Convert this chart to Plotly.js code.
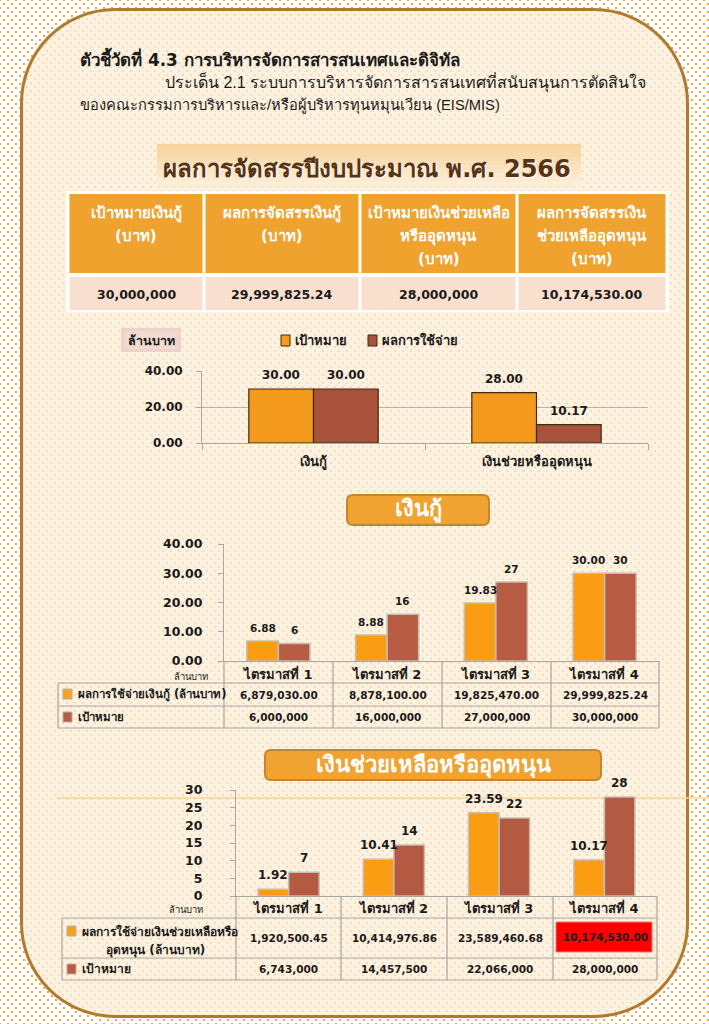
<!DOCTYPE html>
<html><head><meta charset="utf-8">
<script src="https://cdn.plot.ly/plotly-3.0.1.min.js"></script>
<style>
html,body{margin:0;padding:0;background:#fff;}
#page{position:relative;width:709px;height:1024px;overflow:hidden;background-color:#fff;
background-image:radial-gradient(circle,#f3a645 0.9px,transparent 1.5px),radial-gradient(circle,#f3a645 0.9px,transparent 1.5px);
background-size:8px 8px;background-position:0 0,4px 4px;}
#card{position:absolute;left:20px;top:8px;width:669px;height:1010px;box-sizing:border-box;border:3px solid #b27a2e;border-radius:95px;background-color:#fdf1df;
background-image:radial-gradient(circle,#f7dbb8 0.9px,transparent 1.5px),radial-gradient(circle,#f7dbb8 0.9px,transparent 1.5px);
background-size:8px 8px;background-position:0 0,4px 4px;}
#chart{position:absolute;left:0;top:0;width:709px;height:1024px;}
</style></head>
<body><div id="page"><div id="card"></div><div id="chart"></div></div>
<script>
// ---------------- DATA ----------------
const titleLines = [
  "ตัวชี้วัดที่ 4.3 การบริหารจัดการสารสนเทศและดิจิทัล",
  "ประเด็น 2.1 ระบบการบริหารจัดการสารสนเทศที่สนับสนุนการตัดสินใจ",
  "ของคณะกรรมการบริหารและ/หรือผู้บริหารทุนหมุนเวียน (EIS/MIS)"
];
const summaryTitle = "ผลการจัดสรรปีงบประมาณ พ.ศ. 2566";
const summaryHeaders = [
  ["เป้าหมายเงินกู้", "(บาท)"],
  ["ผลการจัดสรรเงินกู้", "(บาท)"],
  ["เป้าหมายเงินช่วยเหลือ", "หรืออุดหนุน", "(บาท)"],
  ["ผลการจัดสรรเงิน", "ช่วยเหลืออุดหนุน", "(บาท)"]
];
const summaryValues = ["30,000,000", "29,999,825.24", "28,000,000", "10,174,530.00"];

const unitLabel = "ล้านบาท";
const overviewCategories = ["เงินกู้", "เงินช่วยหรืออุดหนุน"];
const overviewNames = ["เป้าหมาย", "ผลการใช้จ่าย"];
const overviewTarget = [30.00, 28.00];
const overviewSpent = [29.999825, 10.17453];

const quarters = ["ไตรมาสที่ 1", "ไตรมาสที่ 2", "ไตรมาสที่ 3", "ไตรมาสที่ 4"];

const loanTitle = "เงินกู้";
const loanRowNames = ["ผลการใช้จ่ายเงินกู้ (ล้านบาท)", "เป้าหมาย"];
const loanSpentBaht = [6879030.00, 8878100.00, 19825470.00, 29999825.24];
const loanTargetBaht = [6000000, 16000000, 27000000, 30000000];

const grantTitle = "เงินช่วยเหลือหรืออุดหนุน";
const grantRowNames = [["ผลการใช้จ่ายเงินช่วยเหลือหรือ", "อุดหนุน (ล้านบาท)"], "เป้าหมาย"];
const grantSpentBaht = [1920500.45, 10414976.86, 23589460.68, 10174530.00];
const grantTargetBaht = [6743000, 14457500, 22066000, 28000000];

// ---------------- HELPERS ----------------
const W = 709, H = 1024;
const F = "Tahoma, 'DejaVu Sans', 'Noto Sans', sans-serif";
const FN = "'Liberation Sans Narrow', 'Liberation Sans', sans-serif";
const X = v => v / W, Y = v => 1 - v / H;
const toM = a => a.map(v => v / 1e6);
const fmt2 = v => v.toLocaleString('en-US', {minimumFractionDigits: 2, maximumFractionDigits: 2});
const fmt0 = v => v.toLocaleString('en-US', {maximumFractionDigits: 0});
const shapes = [], ann = [];
function rect(x0, y0, x1, y1, fill, lc, lw, layer) {
  shapes.push({type: 'rect', xref: 'paper', yref: 'paper', x0: X(x0), x1: X(x1), y0: Y(y1), y1: Y(y0),
    fillcolor: fill, line: {color: lc || 'rgba(0,0,0,0)', width: lw || 0}, layer: layer || 'below'});
}
function line(x0, y0, x1, y1, c, w) {
  shapes.push({type: 'line', xref: 'paper', yref: 'paper', x0: X(x0), x1: X(x1), y0: Y(y0), y1: Y(y1),
    line: {color: c, width: w || 1}, layer: 'below'});
}
function rrect(x0, y0, x1, y1, r, fill, lc, lw) {
  const p = `M${X(x0 + r)},${Y(y0)} L${X(x1 - r)},${Y(y0)} Q${X(x1)},${Y(y0)} ${X(x1)},${Y(y0 + r)} ` +
    `L${X(x1)},${Y(y1 - r)} Q${X(x1)},${Y(y1)} ${X(x1 - r)},${Y(y1)} L${X(x0 + r)},${Y(y1)} ` +
    `Q${X(x0)},${Y(y1)} ${X(x0)},${Y(y1 - r)} L${X(x0)},${Y(y0 + r)} Q${X(x0)},${Y(y0)} ${X(x0 + r)},${Y(y0)} Z`;
  shapes.push({type: 'path', xref: 'paper', yref: 'paper', path: p, fillcolor: fill,
    line: {color: lc || 'rgba(0,0,0,0)', width: lw || 0}, layer: 'below'});
}
function txt(x, y, text, size, o) {
  o = o || {};
  ann.push({xref: 'paper', yref: 'paper', x: X(x), y: Y(y), text: text, showarrow: false,
    xanchor: o.xa || 'center', yanchor: 'middle',
    font: {family: o.family || F, size: size, color: o.color || '#1a1a1a', weight: o.weight || 'normal', shadow: o.shadow || 'none'}});
}

// ---------------- HEADER TEXT ----------------
txt(78, 58, titleLines[0], 16.9, {xa: 'left', weight: 'bold'});
txt(163, 82, titleLines[1], 16, {xa: 'left', family: FN});
txt(78, 105, titleLines[2], 14.7, {xa: 'left', family: FN});

// summary title box (soft gradient)
const gTop = [0xf7, 0xd3, 0x9e], gBot = [0xfd, 0xee, 0xd8];
const nStrip = 10;
for (let i = 0; i < nStrip; i++) {
  const t = i / (nStrip - 1);
  const c = gTop.map((v, k) => Math.round(v + (gBot[k] - v) * t));
  const y0 = 144 + i * (42 / nStrip), y1 = y0 + 42 / nStrip + 0.6;
  rect(157, y0, 581, y1, `rgb(${c[0]},${c[1]},${c[2]})`);
}
txt(367, 169, summaryTitle, 24, {weight: 'bold', color: '#553415', shadow: '1px 1px 2px rgba(255,255,255,0.8)'});

// summary table
const cEdges = [68, 204, 360, 517, 667];
rect(66, 191, 669, 312, '#ffffff');
for (let i = 0; i < 4; i++) {
  const x0 = cEdges[i] + 1.5, x1 = cEdges[i + 1] - 1.5, cx = (cEdges[i] + cEdges[i + 1]) / 2;
  rect(x0, 194, x1, 273, '#f0a22f');
  rect(x0, 277, x1, 310, '#f9dfcd');
  summaryHeaders[i].forEach((s, k) => txt(cx, 213 + k * 23, s, 15, {color: '#ffffff', weight: 'bold'}));
  txt(cx, 294, summaryValues[i], 12.5, {weight: 'bold'});
}

// ---------------- CHART 1 decorations ----------------
rect(121, 328, 181, 352, '#eed3c9');
rect(125, 331, 177, 349, '#f0dad2');
txt(151, 340, unitLabel, 12.5, {weight: 'bold'});
const legColors = ['#f49c1d', '#a9523b'];
rect(281, 335, 290, 346, legColors[0], '#3f2a14', 1, 'above');
txt(293, 340, overviewNames[0], 13, {xa: 'left', weight: 'bold'});
rect(368, 335, 377, 346, legColors[1], '#3f2a14', 1, 'above');
txt(380, 340, overviewNames[1], 13, {xa: 'left', weight: 'bold'});

// ---------------- HEADINGS ----------------
rrect(347, 495, 489, 525, 6, '#f0a331', '#c4862c', 2);
txt(418, 509, loanTitle, 22, {color: '#ffffff', weight: 'bold'});
line(57, 798, 709, 798, '#f6d3a2', 1.5);
rrect(265, 750, 601, 780, 6, '#f0a331', '#c4862c', 2);
txt(433, 765, grantTitle, 22, {color: '#ffffff', weight: 'bold'});

// ---------------- DATA TABLES ----------------
const grid = '#a9a5a0';
function dataTable(cols, yTop, rowTops, left, rows, red) {
  const yB = rowTops[rowTops.length - 1];
  cols.forEach(c => line(c, yTop, c, yB, grid, 1.2));
  line(left, rowTops[0], left, yB, grid, 1.2);
  rowTops.forEach(y => line(left, y, cols[cols.length - 1], y, grid, 1.2));
  for (let r = 0; r < rows.length; r++) {
    const y0 = rowTops[r], y1 = rowTops[r + 1], cy = (y0 + y1) / 2;
    for (let i = 0; i < 4; i++) {
      const cx = (cols[i] + cols[i + 1]) / 2;
      const hl = red && red[0] === r && red[1] === i;
      if (hl) rect(cols[i] + 3, y0 + 4, cols[i + 1] - 5, y1 - 6, '#ff0000', '#ff7070', 1);
      txt(cx, cy + (hl ? -1 : 0), rows[r][i], 10.5, {weight: 'bold'});
    }
  }
}
// loan table
dataTable([224, 333, 442, 551, 659], 661, [683, 706, 728], 58,
  [loanSpentBaht.map(fmt2), loanTargetBaht.map(fmt0)]);
rect(63, 689, 72, 699, '#f7a21e', '#b9b0a8', 1, 'above');
txt(76, 694, loanRowNames[0], 11.5, {xa: 'left', weight: 'bold'});
rect(63, 712, 72, 722, '#b85b43', '#b9b0a8', 1, 'above');
txt(76, 717, loanRowNames[1], 11.5, {xa: 'left', weight: 'bold'});
txt(191, 676, unitLabel, 9.5);

// grant table
dataTable([236, 341, 447, 553, 657], 896, [918, 958, 980], 62,
  [grantSpentBaht.map(fmt2), grantTargetBaht.map(fmt0)], [0, 3]);
rect(67, 926, 76, 936, '#f7a21e', '#b9b0a8', 1, 'above');
txt(80, 931, grantRowNames[0][0], 12, {xa: 'left', weight: 'bold'});
txt(155, 950, grantRowNames[0][1], 12, {weight: 'bold'});
rect(67, 964, 76, 974, '#b85b43', '#b9b0a8', 1, 'above');
txt(80, 969, grantRowNames[1], 12, {xa: 'left', weight: 'bold'});
txt(186, 909, unitLabel, 9.5);

// ---------------- TRACES ----------------
const BARGAP = 0.42;
const traces = [];
function barPair(xa, ya, cats, yA, yB, colA, colB, lineA, lineB, fmtA, fmtB, domPx, lblSize) {
  traces.push({type: 'bar', x: cats, y: yA, xaxis: xa, yaxis: ya, marker: {color: colA, line: lineA},
    hoverinfo: 'skip', showlegend: false});
  traces.push({type: 'bar', x: cats, y: yB, xaxis: xa, yaxis: ya, marker: {color: colB, line: lineB},
    hoverinfo: 'skip', showlegend: false});
  const catW = (domPx[1] - domPx[0]) / cats.length;
  const dx = (1 - BARGAP) / 4 * catW;
  const lf = {family: F, size: lblSize, color: '#1a1a1a', weight: 'bold'};
  cats.forEach((c, i) => {
    [[yA, fmtA, -dx], [yB, fmtB, dx]].forEach(([arr, f, s]) => {
      ann.push({xref: xa, yref: ya, x: c, y: arr[i], xshift: s, yshift: 5, yanchor: 'bottom',
        text: f(arr[i]), showarrow: false, font: lf});
    });
  });
}
const dark = {color: '#3f2a14', width: 1.2};
const soft = {color: '#c6bdb4', width: 1.5};
barPair('x', 'y', overviewCategories, overviewTarget, overviewSpent, '#f39a1c', '#a9523b', dark, dark,
  v => v.toFixed(2), v => v.toFixed(2), [202, 648], 12);
barPair('x2', 'y2', quarters, toM(loanSpentBaht), toM(loanTargetBaht), '#fb9d12', '#b85b43', soft, soft,
  v => v.toFixed(2), v => v.toFixed(0), [224, 659], 10.5);
barPair('x3', 'y3', quarters, toM(grantSpentBaht), toM(grantTargetBaht), '#fb9d12', '#b55a42', soft, soft,
  v => v.toFixed(2), v => v.toFixed(0), [236, 657], 12);

const axGray = '#a8a8a8';
const tf = s => ({family: F, size: s, color: '#1a1a1a', weight: 'bold'});
const layout = {
  width: W, height: H, margin: {l: 0, r: 0, t: 0, b: 0},
  paper_bgcolor: 'rgba(0,0,0,0)', plot_bgcolor: 'rgba(0,0,0,0)',
  barmode: 'group', bargap: BARGAP, bargroupgap: 0, showlegend: false,
  font: {family: F},
  xaxis: {domain: [X(202), X(648)], anchor: 'y', type: 'category', showline: true, linecolor: axGray,
    ticks: 'outside', tickson: 'boundaries', ticklen: 6, tickcolor: axGray, showgrid: false,
    tickfont: tf(13), ticklabelstandoff: 6, fixedrange: true},
  yaxis: {domain: [Y(443), Y(371)], anchor: 'x', range: [0, 40], dtick: 20, tickformat: '.2f',
    showgrid: true, gridcolor: '#b3b3b3', gridwidth: 1, showline: true, linecolor: axGray, zeroline: false,
    ticks: 'outside', ticklen: 5, tickcolor: axGray, tickfont: tf(12), ticklabelstandoff: 11, fixedrange: true},
  xaxis2: {domain: [X(224), X(659)], anchor: 'y2', type: 'category', showline: true, linecolor: grid,
    ticks: '', showgrid: false, tickfont: tf(13), ticklabelstandoff: 1, fixedrange: true},
  yaxis2: {domain: [Y(661), Y(544)], anchor: 'x2', range: [0, 40], dtick: 10, tickformat: '.2f',
    showgrid: false, showline: true, linecolor: axGray, zeroline: false, ticks: 'outside', ticklen: 5,
    tickcolor: axGray, tickfont: tf(12.5), ticklabelstandoff: 13, fixedrange: true},
  xaxis3: {domain: [X(236), X(657)], anchor: 'y3', type: 'category', showline: true, linecolor: grid,
    ticks: '', showgrid: false, tickfont: tf(13), ticklabelstandoff: 0, fixedrange: true},
  yaxis3: {domain: [Y(896), Y(790)], anchor: 'x3', range: [0, 30], dtick: 5,
    showgrid: false, showline: true, linecolor: axGray, zeroline: false, ticks: 'outside', ticklen: 5,
    tickcolor: axGray, tickfont: tf(12.5), ticklabelstandoff: 25, fixedrange: true},
  shapes: shapes, annotations: ann
};
Plotly.newPlot('chart', traces, layout, {displayModeBar: false, staticPlot: true});
</script>
</body></html>
